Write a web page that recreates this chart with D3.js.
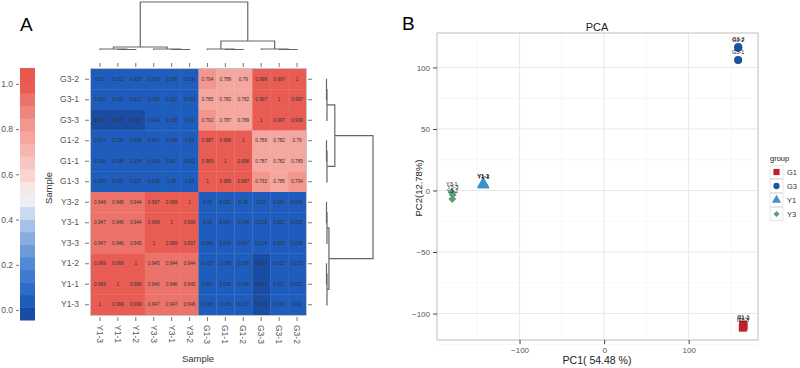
<!DOCTYPE html>
<html><head><meta charset="utf-8">
<script src="https://cdn.jsdelivr.net/npm/d3@7"></script>
<style>body{margin:0;background:#fff}svg{font-family:"Liberation Sans",Arial,sans-serif}</style>
</head><body><svg id="c" width="800" height="368"></svg>
<script>
// ---------- DATA ----------
const colSamples = ["Y1-3","Y1-1","Y1-2","Y3-3","Y3-1","Y3-2","G1-3","G1-1","G1-2","G3-3","G3-1","G3-2"];
const rowSamples = ["G3-2","G3-1","G3-3","G1-2","G1-1","G1-3","Y3-2","Y3-1","Y3-3","Y1-2","Y1-1","Y1-3"];
// correlation matrix, rows & columns in colSamples order
const corrY13 = [1,0.999,0.999,0.947,0.947,0.946,0.036,0.039,0.037,0.006,0.032,0.020];
const corrY11 = [0.999,1,0.999,0.946,0.946,0.945,0.037,0.038,0.036,0.007,0.021,0.022];
const corrY12 = [0.999,0.999,1,0.945,0.944,0.944,0.037,0.038,0.036,0.007,0.022,0.022];
const corrY33 = [0.947,0.946,0.945,1,0.999,0.997,0.048,0.049,0.047,0.014,0.036,0.036];
const corrY31 = [0.947,0.946,0.944,0.999,1,0.999,0.05,0.047,0.048,0.018,0.027,0.026];
const corrY32 = [0.946,0.945,0.944,0.997,0.999,1,0.05,0.052,0.05,0.020,0.031,0.036];
const corrG13 = [0.036,0.037,0.037,0.048,0.05,0.05,1,0.989,0.987,0.792,0.785,0.794];
const corrG11 = [0.039,0.038,0.038,0.049,0.047,0.052,0.989,1,0.996,0.787,0.782,0.789];
const corrG12 = [0.037,0.036,0.036,0.047,0.048,0.05,0.987,0.996,1,0.789,0.782,0.79];
const corrG33 = [0.006,0.007,0.007,0.014,0.018,0.020,0.792,0.787,0.789,1,0.997,0.999];
const corrG31 = [0.032,0.021,0.022,0.036,0.027,0.031,0.785,0.782,0.782,0.997,1,0.997];
const corrG32 = [0.020,0.022,0.022,0.036,0.026,0.036,0.794,0.789,0.79,0.999,0.997,1];
const corrRows = [corrY13,corrY11,corrY12,corrY33,corrY31,corrY32,corrG13,corrG11,corrG12,corrG33,corrG31,corrG32];
// clustering tree (merge heights), leaves in column order
const clusterTree = {h:0.96, children:[
  {h:0.06, children:[
    {h:0.02, children:[{name:"Y1-3"},{h:0.01, children:[{name:"Y1-1"},{name:"Y1-2"}]}]},
    {h:0.02, children:[{name:"Y3-3"},{h:0.01, children:[{name:"Y3-1"},{name:"Y3-2"}]}]}]},
  {h:0.18, children:[
    {h:0.02, children:[{name:"G1-3"},{h:0.01, children:[{name:"G1-1"},{name:"G1-2"}]}]},
    {h:0.02, children:[{name:"G3-3"},{h:0.01, children:[{name:"G3-1"},{name:"G3-2"}]}]}]}
]};
const legendTicks = [0,0.2,0.4,0.6,0.8,1.0];

// PCA
const pcaNames = ["G1-1","G1-2","G1-3","G3-1","G3-2","G3-3","Y1-1","Y1-2","Y1-3","Y3-1","Y3-2","Y3-3"];
const pcaGroup = ["G1","G1","G1","G3","G3","G3","Y1","Y1","Y1","Y3","Y3","Y3"];
const pc1 = [164.5,165,164,158.5,158.5,158.7,-143,-143,-142.5,-180,-179.5,-179];
const pc2 = [-109,-110.5,-111.5,106,116,116.5,5.5,5,4.5,-1.5,-7,-3.5];
const groups = ["G1","G3","Y1","Y3"];
const pcXTicks = [-100,0,100];
const pcYTicks = [-100,-50,0,50,100];

// ---------- DRAW ----------
const svg = d3.select("#c");
const tickCol = "#555";

// panel letters
svg.append("text").attr("x",20).attr("y",31).attr("font-size",19).text("A");
svg.append("text").attr("x",402).attr("y",30).attr("font-size",19).text("B");

// colour scale
const colorLin = d3.scaleLinear()
  .domain([0,0.05,0.2,0.35,0.45,0.5,0.6,0.75,0.9,1.0])
  .range(["#1a4ca3","#1f62c4","#4f86d4","#97b6e4","#d6e2f3","#f4f4f6","#f9d3cf","#f5aaa3","#ee7f75","#e8574e"])
  .clamp(true);
const lo = -0.044, hi = 1.07, nBands = 20, bw = (hi-lo)/nBands;
const binColor = v => { const i = Math.max(0, Math.min(nBands-1, Math.floor((v-lo)/bw))); return colorLin(lo+(i+0.5)*bw); };

// colour bar
const barY = d3.scaleLinear([lo,hi],[320,68]);
const bands = d3.range(nBands);
svg.append("g").selectAll("rect").data(bands).join("rect")
  .attr("x",20).attr("width",15)
  .attr("y",i=>barY(lo+(i+1)*bw)).attr("height",i=>barY(lo+i*bw)-barY(lo+(i+1)*bw)+0.5)
  .attr("fill",i=>colorLin(lo+(i+0.5)*bw));
const cbAx = svg.append("g").attr("transform","translate(19,0)")
  .call(d3.axisLeft(barY).tickValues(legendTicks).tickFormat(d3.format(".1f")).tickSize(3).tickPadding(3));
cbAx.select(".domain").remove();
cbAx.selectAll("text").attr("font-size",8.5).attr("fill",tickCol).attr("font-family","Liberation Sans, Arial");
cbAx.selectAll("line").attr("stroke","#777");

// heatmap
const hx = d3.scaleBand(colSamples,[91,306]);
const hy = d3.scaleBand(rowSamples,[69,315]);
const cells = [];
rowSamples.forEach(r=>{ const ri = colSamples.indexOf(r);
  colSamples.forEach((c,ci)=>cells.push({r,c,v:corrRows[ri][ci]})); });
const hg = svg.append("g");
hg.selectAll("rect").data(cells).join("rect")
  .attr("x",d=>hx(d.c)).attr("y",d=>hy(d.r))
  .attr("width",hx.bandwidth()+0.3).attr("height",hy.bandwidth()+0.3)
  .attr("fill",d=>binColor(d.v));
const fmt = d3.format(".3~f");
hg.selectAll("text").data(cells).join("text")
  .attr("x",d=>hx(d.c)+hx.bandwidth()/2).attr("y",d=>hy(d.r)+hy.bandwidth()/2)
  .attr("dy","0.35em").attr("text-anchor","middle").attr("font-size",4.7)
  .attr("fill","#333").text(d=>fmt(d.v));
svg.append("rect").attr("x",90.5).attr("y",68.5).attr("width",216).attr("height",247)
  .attr("fill","none").attr("stroke","#c4c4c4").attr("stroke-width",1);

function styleAxis(g, labels){
  g.select(".domain").remove();
  g.selectAll("line").attr("stroke","#777");
  if(!labels) g.selectAll("text").remove();
  else g.selectAll("text").attr("font-size",8.5).attr("fill",tickCol);
}
const axL = svg.append("g").attr("transform","translate(89,0)").call(d3.axisLeft(hy).tickSize(4).tickPadding(6));
styleAxis(axL,true);
const axR = svg.append("g").attr("transform","translate(308,0)").call(d3.axisRight(hy).tickSize(4));
styleAxis(axR,false);
const axT = svg.append("g").attr("transform","translate(0,67)").call(d3.axisTop(hx).tickSize(4));
styleAxis(axT,false);
const axB = svg.append("g").attr("transform","translate(0,317)").call(d3.axisBottom(hx).tickSize(4));
styleAxis(axB,true);
axB.selectAll("text").attr("transform","rotate(90)").attr("text-anchor","start")
  .attr("x",8).attr("y",0).attr("dy","0.35em");
svg.append("text").attr("x",198).attr("y",362).attr("text-anchor","middle").attr("font-size",9.5).attr("fill","#333").text("Sample");
svg.append("text").attr("transform","translate(52,188) rotate(-90)").attr("text-anchor","middle").attr("font-size",9.5).attr("fill","#333").text("Sample");

// dendrograms
function layoutTree(posOf){
  const root = d3.hierarchy(clusterTree);
  root.eachAfter(n=>{
    if(!n.children){ n.pos = posOf(n.data.name); n.ht = 0; }
    else { n.pos = d3.mean(n.children,c=>c.pos); n.ht = n.data.h; }
  });
  return root;
}
const dg = svg.append("g").attr("fill","none").attr("stroke","#666").attr("stroke-width",1.2);
// top (columns)
const topRoot = layoutTree(name=>hx(name)+hx.bandwidth()/2);
const topH = d3.scaleLinear([0,0.96],[50,2]);
topRoot.each(n=>{ if(!n.children) return;
  const [a,b] = n.children;
  dg.append("path").attr("d",`M${a.pos},${topH(a.ht)}V${topH(n.ht)}H${b.pos}V${topH(b.ht)}`);
});
// right (rows)
const rowRoot = layoutTree(name=>hy(name)+hy.bandwidth()/2);
const rightH = d3.scaleLinear([0,0.96],[326,373]);
rowRoot.each(n=>{ if(!n.children) return;
  const [a,b] = n.children;
  dg.append("path").attr("d",`M${rightH(a.ht)},${a.pos}H${rightH(n.ht)}V${b.pos}H${rightH(b.ht)}`);
});

// ---------- PCA ----------
const px = d3.scaleLinear([-197.6,182],[437,758]);
const py = d3.scaleLinear([-121.5,128],[340,33]);
const pg = svg.append("g");
const minorX = [-150,-50,50,150], minorY = [-125,-75,-25,25,75,125];
pg.selectAll(".mx").data(minorX).join("line").attr("class","mx").attr("x1",px).attr("x2",px).attr("y1",33).attr("y2",340).attr("stroke","#f2f2f2").attr("stroke-width",0.6);
pg.selectAll(".my").data(minorY).join("line").attr("class","my").attr("y1",py).attr("y2",py).attr("x1",437).attr("x2",758).attr("stroke","#f2f2f2").attr("stroke-width",0.6);
pg.selectAll(".gx").data(pcXTicks).join("line").attr("class","gx").attr("x1",px).attr("x2",px).attr("y1",33).attr("y2",340).attr("stroke","#e6e6e6").attr("stroke-width",0.9);
pg.selectAll(".gy").data(pcYTicks).join("line").attr("class","gy").attr("y1",py).attr("y2",py).attr("x1",437).attr("x2",758).attr("stroke","#e6e6e6").attr("stroke-width",0.9);
svg.append("rect").attr("x",437).attr("y",33).attr("width",321).attr("height",307).attr("fill","none").attr("stroke","#bdbdbd").attr("stroke-width",1);
const pxAx = svg.append("g").attr("transform","translate(0,340)").call(d3.axisBottom(px).tickValues(pcXTicks).tickFormat(d3.format("d")).tickSize(4).tickPadding(3));
pxAx.select(".domain").remove(); pxAx.selectAll("line").attr("stroke","#444");
pxAx.selectAll("text").attr("font-size",8).attr("fill",tickCol);
const pyAx = svg.append("g").attr("transform","translate(437,0)").call(d3.axisLeft(py).tickValues(pcYTicks).tickFormat(d3.format("d")).tickSize(4).tickPadding(3));
pyAx.select(".domain").remove(); pyAx.selectAll("line").attr("stroke","#444");
pyAx.selectAll("text").attr("font-size",8).attr("fill",tickCol);
svg.append("text").attr("x",597).attr("y",31).attr("text-anchor","middle").attr("font-size",11).attr("fill","#222").text("PCA");
svg.append("text").attr("x",597).attr("y",364).attr("text-anchor","middle").attr("font-size",10.5).attr("fill","#222").text("PC1( 54.48 %)");
svg.append("text").attr("transform","translate(422,188) rotate(-90)").attr("text-anchor","middle").attr("font-size",9.5).attr("fill","#222").text("PC2(12.78%)");

const gColor = d3.scaleOrdinal(groups,["#c0202c","#1b55a0","#3b93cb","#5a9f7a"]);
const diamond = d3.symbolDiamond2 || d3.symbolDiamond;
const gShape = d3.scaleOrdinal(groups,[d3.symbolSquare,d3.symbolCircle,d3.symbolTriangle,diamond]);
const gSize = d3.scaleOrdinal(groups,[64,52,62,40]);
const pts = pcaNames.map((n,i)=>({n,g:pcaGroup[i],x:pc1[i],y:pc2[i]}));
svg.append("g").selectAll("path").data(pts).join("path")
  .attr("transform",d=>`translate(${px(d.x)},${py(d.y)})`)
  .attr("d",d=>d3.symbol(gShape(d.g),gSize(d.g))())
  .attr("fill",d=>gColor(d.g));
svg.append("g").selectAll("text").data(pts).join("text")
  .attr("x",d=>px(d.x)).attr("y",d=>py(d.y)-6)
  .attr("text-anchor","middle").attr("font-size",5.5).attr("fill","#222").text(d=>d.n);

// legend
const lg = svg.append("g");
lg.append("text").attr("x",770).attr("y",161).attr("font-size",7.5).attr("fill","#222").text("group");
groups.forEach((g,i)=>{
  const cy = 172+i*14;
  lg.append("rect").attr("x",770).attr("y",cy-6.5).attr("width",13).attr("height",13).attr("fill","#fff").attr("stroke","#e0e0e0").attr("stroke-width",0.8);
  lg.append("path").attr("transform",`translate(776.5,${cy})`).attr("d",d3.symbol(gShape(g),gSize(g)*0.6)()).attr("fill",gColor(g));
  lg.append("text").attr("x",787).attr("y",cy).attr("dy","0.35em").attr("font-size",7.5).attr("fill","#333").text(g);
});
</script></body></html>
